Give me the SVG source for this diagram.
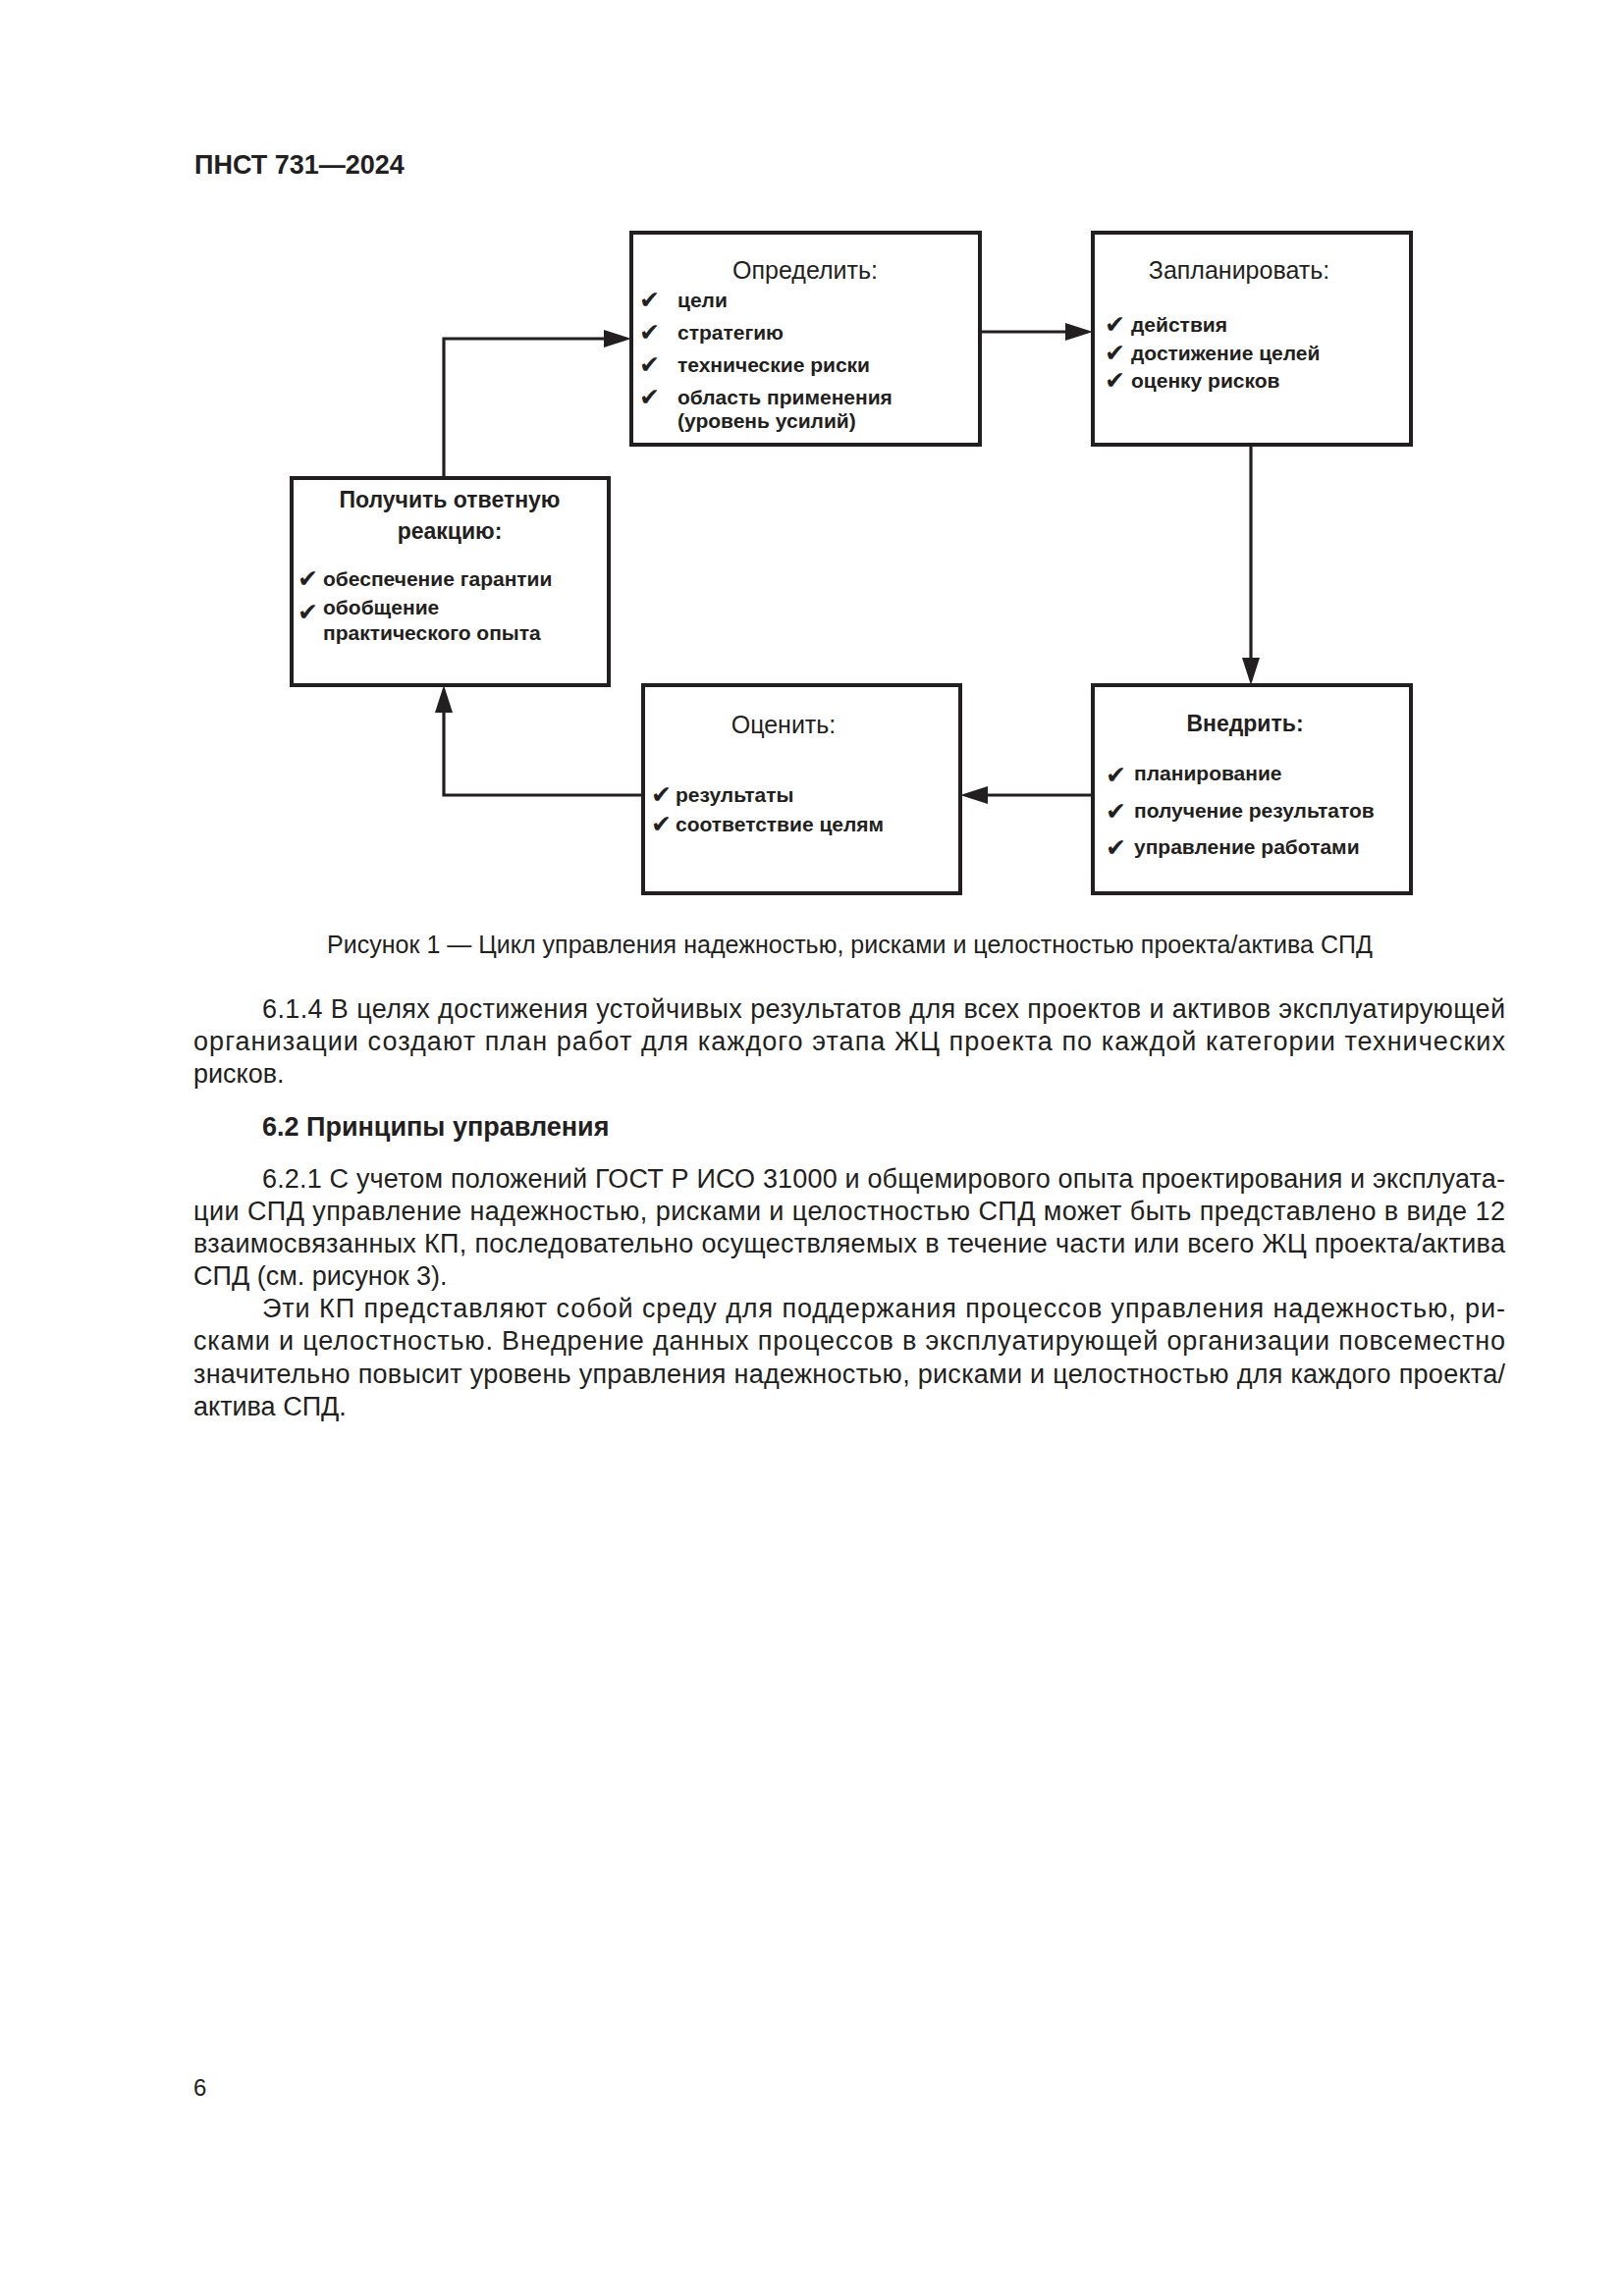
<svg xmlns="http://www.w3.org/2000/svg" width="1654" height="2339" viewBox="0 0 1654 2339">
<style>
text{font-family:"Liberation Sans",Arial,sans-serif;fill:#231f20}
.box{fill:#fff;stroke:#231f20;stroke-width:4}
.ttl{font-size:25px;text-anchor:middle}
.ttlb{font-size:23px;font-weight:bold;text-anchor:middle}
.itm{font-size:21px;font-weight:bold}
.chk{font-family:"DejaVu Sans",sans-serif;font-size:25px}
.con{fill:none;stroke:#231f20;stroke-width:3.2}
.body{font-size:27px}
.cap{font-size:25px}
</style>
<defs>
<marker id="ah" viewBox="0 0 28 18" refX="8" refY="9" markerWidth="28" markerHeight="18" markerUnits="userSpaceOnUse" orient="auto">
<path d="M0,0 L28,9 L0,18 Z" fill="#231f20"/>
</marker>
</defs>
<rect width="1654" height="2339" fill="#fff"/>
<text x="198" y="177" style="font-size:27px;font-weight:bold">ПНСТ 731—2024</text>

<g id="connectors">
<path class="con" d="M998,338 H1093" marker-end="url(#ah)"/>
<path class="con" d="M1274,453 V678" marker-end="url(#ah)"/>
<path class="con" d="M1113,810 H998" marker-end="url(#ah)"/>
<path class="con" d="M655,810 H452 V718" marker-end="url(#ah)"/>
<path class="con" d="M452,487 V345 H623" marker-end="url(#ah)"/>
</g>

<g id="node-define">
<rect class="box" x="643" y="237" width="355" height="216"/>
<text class="ttl" x="820" y="284">Определить:</text>
<text class="chk" x="651" y="314">✔</text><text class="itm" x="690" y="313">цели</text>
<text class="chk" x="651" y="347">✔</text><text class="itm" x="690" y="346">стратегию</text>
<text class="chk" x="651" y="380">✔</text><text class="itm" x="690" y="379">технические риски</text>
<text class="chk" x="651" y="413">✔</text><text class="itm" x="690" y="412">область применения</text>
<text class="itm" x="690" y="436">(уровень усилий)</text>
</g>

<g id="node-plan">
<rect class="box" x="1113" y="237" width="324" height="216"/>
<text class="ttl" x="1262" y="284">Запланировать:</text>
<text class="chk" x="1125" y="339">✔</text><text class="itm" x="1152" y="338">действия</text>
<text class="chk" x="1125" y="368">✔</text><text class="itm" x="1152" y="367">достижение целей</text>
<text class="chk" x="1125" y="396">✔</text><text class="itm" x="1152" y="395">оценку рисков</text>
</g>

<g id="node-feedback">
<rect class="box" x="297" y="487" width="323" height="211"/>
<text class="ttlb" x="458" y="517">Получить ответную</text>
<text class="ttlb" x="458" y="549">реакцию:</text>
<text class="chk" x="303" y="598">✔</text><text class="itm" x="329" y="597">обеспечение гарантии</text>
<text class="chk" x="303" y="632">✔</text><text class="itm" x="329" y="626">обобщение</text>
<text class="itm" x="329" y="652">практического опыта</text>
</g>

<g id="node-evaluate">
<rect class="box" x="655" y="698" width="323" height="212"/>
<text class="ttl" x="798" y="747">Оценить:</text>
<text class="chk" x="663" y="818">✔</text><text class="itm" x="688" y="817">результаты</text>
<text class="chk" x="663" y="848">✔</text><text class="itm" x="688" y="847">соответствие целям</text>
</g>

<g id="node-implement">
<rect class="box" x="1113" y="698" width="324" height="212"/>
<text class="ttlb" x="1268" y="745">Внедрить:</text>
<text class="chk" x="1126" y="798">✔</text><text class="itm" x="1155" y="795">планирование</text>
<text class="chk" x="1126" y="835">✔</text><text class="itm" x="1155" y="833">получение результатов</text>
<text class="chk" x="1126" y="872">✔</text><text class="itm" x="1155" y="870">управление работами</text>
</g>

<text class="cap" x="333" y="971" textLength="1065" lengthAdjust="spacing">Рисунок 1 — Цикл управления надежностью, рисками и целостностью проекта/актива СПД</text>

<text class="body" x="267" y="1037" textLength="1266" lengthAdjust="spacing">6.1.4 В целях достижения устойчивых результатов для всех проектов и активов эксплуатирующей</text>
<text class="body" x="197" y="1070" textLength="1336" lengthAdjust="spacing">организации создают план работ для каждого этапа ЖЦ проекта по каждой категории технических</text>
<text class="body" x="197" y="1103">рисков.</text>

<text class="body" x="267" y="1157" style="font-weight:bold">6.2 Принципы управления</text>

<text class="body" x="267" y="1210" textLength="1266" lengthAdjust="spacing">6.2.1 С учетом положений ГОСТ Р ИСО 31000 и общемирового опыта проектирования и эксплуата-</text>
<text class="body" x="197" y="1243" textLength="1336" lengthAdjust="spacing">ции СПД управление надежностью, рисками и целостностью СПД может быть представлено в виде 12</text>
<text class="body" x="197" y="1276" textLength="1336" lengthAdjust="spacing">взаимосвязанных КП, последовательно осуществляемых в течение части или всего ЖЦ проекта/актива</text>
<text class="body" x="197" y="1309">СПД (см. рисунок 3).</text>
<text class="body" x="267" y="1342" textLength="1266" lengthAdjust="spacing">Эти КП представляют собой среду для поддержания процессов управления надежностью, ри-</text>
<text class="body" x="197" y="1375" textLength="1336" lengthAdjust="spacing">сками и целостностью. Внедрение данных процессов в эксплуатирующей организации повсеместно</text>
<text class="body" x="197" y="1409" textLength="1336" lengthAdjust="spacing">значительно повысит уровень управления надежностью, рисками и целостностью для каждого проекта/</text>
<text class="body" x="197" y="1442">актива СПД.</text>

<text x="197" y="2135" style="font-size:24px">6</text>
</svg>
